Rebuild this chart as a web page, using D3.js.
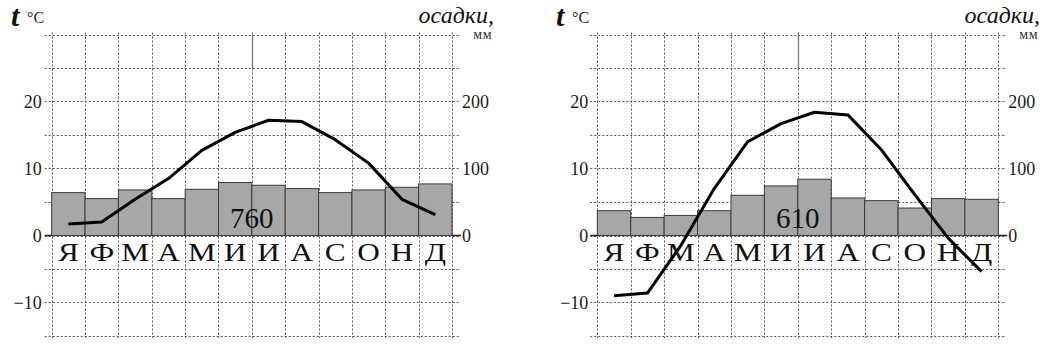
<!DOCTYPE html>
<html><head><meta charset="utf-8">
<script src="https://cdn.jsdelivr.net/npm/d3@7"></script>
<style>body{margin:0;background:#fff}svg{display:block}</style>
</head><body>
<script>
const months = ["Я","Ф","М","А","М","И","И","А","С","О","Н","Д"];
const tempLeft = [1.7, 2.0, 5.4, 8.5, 12.7, 15.4, 17.2, 17.0, 14.3, 10.8, 5.4, 3.1];
const precLeft = [64, 55, 68, 55, 69, 79, 75, 70, 64, 68, 72, 77];
const totalLeft = "760";
const tempRight = [-9.0, -8.6, -1.5, 7.0, 14.0, 16.7, 18.4, 18.0, 12.8, 6.1, -0.4, -5.4];
const precRight = [37, 27, 30, 37, 60, 74, 84, 56, 52, 41, 55, 54];
const totalRight = "610";
const tempTicks = [-10, 0, 10, 20];
const precTicks = [0, 100, 200];
const gridTemps = [-15, -10, -5, 0, 5, 10, 15, 20, 25, 30];

const W = 1047, H = 348;
const svg = d3.select("body").append("svg").attr("width", W).attr("height", H);

const yT = d3.scaleLinear().domain([-15, 30]).range([336, 34.5]);
const yP = d3.scaleLinear().domain([-150, 300]).range([336, 34.5]);
const serif = "'Liberation Serif', 'Times New Roman', serif";

function panel(x0, x1, temps, precs, total, opts) {
  const g = svg.append("g");
  const x = d3.scaleBand().domain(d3.range(12)).range([x0, x1]).padding(0);
  const bw = x.bandwidth();
  // grid
  const grid = g.append("g").attr("stroke", "#555").attr("stroke-width", 1)
    .attr("stroke-dasharray", "2,2").attr("fill", "none");
  grid.selectAll("line.h").data(gridTemps).join("line")
    .attr("x1", x0 - 7).attr("x2", x1 + 7)
    .attr("y1", d => Math.round(yT(d)) + 0.5).attr("y2", d => Math.round(yT(d)) + 0.5);
  grid.selectAll("line.v").data(d3.range(13)).join("line")
    .attr("x1", i => Math.round(x0 + i * bw) + 0.5).attr("x2", i => Math.round(x0 + i * bw) + 0.5)
    .attr("y1", yT(30) - 2).attr("y2", yT(-15) + 2);
  // odd solid segment
  g.append("line").attr("x1", Math.round(x(6)) + 0.5).attr("x2", Math.round(x(6)) + 0.5)
    .attr("y1", yT(30)).attr("y2", yT(25)).attr("stroke", "#777").attr("stroke-width", 1.3);
  // bars
  g.selectAll("rect.bar").data(precs).join("rect")
    .attr("x", (d, i) => x(i)).attr("width", bw)
    .attr("y", d => yP(d)).attr("height", d => yP(0) - yP(d))
    .attr("fill", "#a7a7a7").attr("stroke", "#3a3a3a").attr("stroke-width", 1);
  // zero ticks
  g.append("line").attr("x1", x0 - 7).attr("x2", x0).attr("y1", yT(0)).attr("y2", yT(0))
    .attr("stroke", "#222").attr("stroke-width", 1.5);
  g.append("line").attr("x1", x1).attr("x2", x1 + 9).attr("y1", yT(0)).attr("y2", yT(0))
    .attr("stroke", "#222").attr("stroke-width", 1.5);
  // axes
  const axL = g.append("g").attr("transform", `translate(${x0},0)`)
    .call(d3.axisLeft(yT).tickValues(tempTicks).tickSize(0).tickPadding(opts.padL));
  const axR = g.append("g").attr("transform", `translate(${x1},0)`)
    .call(d3.axisRight(yP).tickValues(precTicks).tickSize(0).tickPadding(10));
  [axL, axR].forEach(a => {
    a.attr("font-family", null).attr("font-size", null);
    a.select(".domain").remove();
    a.selectAll("text").style("font-family", serif).style("font-size", "18px").attr("fill", "#1a1a1a");
  });
  // month labels
  g.selectAll("text.m").data(months).join("text")
    .attr("transform", (d, i) => `translate(${x(i) + bw / 2},${yT(0) + 25}) scale(1.25,1)`)
    .attr("text-anchor", "middle").style("font-family", serif).style("font-size", "25px")
    .attr("fill", "#111").text(d => d);
  // total
  g.append("text").attr("x", x(6)).attr("y", yT(0) - 8)
    .attr("text-anchor", "middle").style("font-family", serif).style("font-size", "29px")
    .attr("fill", "#111").text(total);
  // line
  const line = d3.line().x((d, i) => x(i) + bw / 2).y(d => yT(d));
  g.append("path").datum(temps).attr("d", line).attr("fill", "none")
    .attr("stroke", "#000").attr("stroke-width", 3).attr("stroke-linejoin", "round");
  // titles
  g.append("text").attr("x", opts.tx).attr("y", 26).style("font-family", serif)
    .style("font-size", "30px").attr("font-style", "italic").attr("font-weight", "bold")
    .attr("fill", "#111").text("t");
  g.append("text").attr("x", opts.tx + 16).attr("y", 23).style("font-family", serif)
    .style("font-size", "16px").attr("fill", "#222").text("°C");
  g.append("text").attr("x", opts.ox).attr("y", 23).attr("text-anchor", "end")
    .style("font-family", serif).style("font-size", "24px").attr("font-style", "italic")
    .attr("fill", "#111").text("осадки,");
  g.append("text").attr("x", opts.ox - 2).attr("y", 39).attr("text-anchor", "end")
    .style("font-family", serif).style("font-size", "14px")
    .attr("letter-spacing", "0.5").attr("fill", "#333").text("мм");
}

panel(51.7, 452, tempLeft, precLeft, totalLeft, {padL: 10, tx: 11, ox: 494});
panel(597.3, 998.3, tempRight, precRight, totalRight, {padL: 9, tx: 556, ox: 1040});
</script>
</body></html>
